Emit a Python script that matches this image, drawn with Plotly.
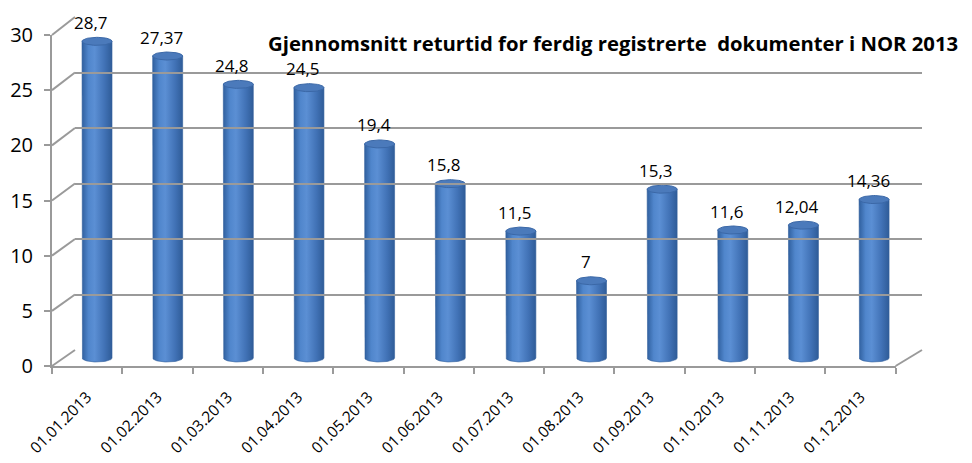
import plotly.graph_objects as go
import numpy as np

# ---- data ----
categories = ["01.01.2013", "01.02.2013", "01.03.2013", "01.04.2013", "01.05.2013", "01.06.2013",
              "01.07.2013", "01.08.2013", "01.09.2013", "01.10.2013", "01.11.2013", "01.12.2013"]
values = [28.7, 27.37, 24.8, 24.5, 19.4, 15.8, 11.5, 7, 15.3, 11.6, 12.04, 14.36]
y_ticks = [0, 5, 10, 15, 20, 25, 30]
title_text = "Gjennomsnitt returtid for ferdig registrerte  dokumenter i NOR 2013"

# ---- layout geometry (screen pixels; page body has an 8px margin) ----
OFF = 8
W, H = 972 - OFF, 463 - OFF
FONT = "Open Sans"


def px(p):
    return (p - OFF) / W


def py(p):
    return 1 - (p - OFF) / H


def y_domain(p0, p30, lo, hi, v0=0, v1=30):
    s = (p30 - p0) / (v1 - v0)
    return [py(p0 + (lo - v0) * s), py(p0 + (hi - v0) * s)]


# front plane
FX0, FX1, FY0, FY30 = 52, 895.6, 366, 35
# back plane
BX0, BX1, BY0, BY30 = 75, 922, 350, 17
# mid plane (bars)
MX0, MX1, MY0, MY30 = 61.7, 909.4, 358, 27

fig = go.Figure()

n = len(categories)
xs = np.arange(1, n + 1)
half_w = 15.0 / ((MX1 - MX0) / n)
ry = 4.0 / ((MY0 - MY30) / 30)
t = np.linspace(0, np.pi, 40)

body_scale = [[0, "#30609f"], [0.22, "#5086cc"], [0.42, "#5b8fd4"], [0.75, "#4172b6"], [1, "#2f5c98"]]

for i, (xc, v) in enumerate(zip(xs, values)):
    arc_x = xc - half_w * np.cos(t)
    arc_y = 0 - ry * np.sin(t)
    bx = np.concatenate([[xc - half_w], arc_x, [xc + half_w, xc - half_w]])
    by = np.concatenate([[v], arc_y, [v, v]])
    fig.add_trace(go.Scatter(
        x=bx, y=by, mode="lines", fill="toself",
        line=dict(width=0.6, color="#33609c"),
        fillgradient=dict(type="horizontal", colorscale=body_scale),
        hoverinfo="skip", showlegend=False, xaxis="x", yaxis="y"))
    tt = np.linspace(0, 2 * np.pi, 60)
    fig.add_trace(go.Scatter(
        x=xc + half_w * np.cos(tt), y=v + ry * np.sin(tt), mode="lines", fill="toself",
        fillcolor="#4b7abb", line=dict(width=1, color="#3b68a7"),
        hoverinfo="skip", showlegend=False, xaxis="x", yaxis="y"))
    fig.add_annotation(x=xc, y=v, xref="x", yref="y", text=f"{v:g}".replace(".", ","),
                       showarrow=False, yshift=19, xshift=-6,
                       font=dict(family=FONT, size=17, color="#000"))

fig.add_trace(go.Scatter(x=[0], y=[0], mode="markers", marker=dict(opacity=0),
                         xaxis="x2", yaxis="y2", hoverinfo="skip", showlegend=False))
fig.add_trace(go.Scatter(x=categories, y=[None] * n, mode="markers",
                         xaxis="x3", yaxis="y3", hoverinfo="skip", showlegend=False))

shapes = []
for tv in y_ticks:
    yf = FY0 + (FY30 - FY0) * tv / 30
    yb = BY0 + (BY30 - BY0) * tv / 30
    shapes.append(dict(type="line", xref="paper", yref="paper",
                       x0=px(FX0), y0=py(yf), x1=px(BX0), y1=py(yb),
                       line=dict(color="#9a9a9a", width=2), layer="below"))
shapes.append(dict(type="line", xref="paper", yref="paper",
                   x0=px(FX1), y0=py(FY0), x1=px(BX1), y1=py(BY0),
                   line=dict(color="#9a9a9a", width=2), layer="below"))

fig.update_layout(
    width=W, height=H, margin=dict(l=0, r=0, t=0, b=0, autoexpand=False),
    paper_bgcolor="white", plot_bgcolor="rgba(0,0,0,0)",
    showlegend=False, shapes=shapes,
    font=dict(family=FONT, size=17, color="#000"),
    xaxis=dict(domain=[px(MX0), px(MX1)], range=[0.5, n + 0.5], visible=False, automargin=False),
    yaxis=dict(domain=y_domain(MY0, MY30, -1.5, 31.5), range=[-1.5, 31.5], visible=False,
               automargin=False),
    xaxis2=dict(domain=[px(BX0), px(BX1)], range=[0, 1], visible=False, anchor="y2",
                automargin=False),
    yaxis2=dict(domain=y_domain(BY0, BY30, -0.05, 30.05), range=[-0.05, 30.05], anchor="x2",
                showgrid=True, gridcolor="#9a9a9a", gridwidth=2, dtick=5, tick0=0,
                zeroline=False, showticklabels=False, showline=False, ticks="",
                automargin=False),
    xaxis3=dict(domain=[px(FX0), px(FX1)], type="category", categoryarray=categories,
                categoryorder="array", range=[-0.5, n - 0.5], anchor="y3", automargin=False,
                showline=True, linecolor="#9a9a9a", linewidth=2, ticks="outside",
                tickson="boundaries", ticklen=6, tickcolor="#9a9a9a", tickwidth=2,
                tickangle=-45, tickfont=dict(family=FONT, size=15.5, color="#000"),
                ticklabelstandoff=14,
                showgrid=False, zeroline=False),
    yaxis3=dict(domain=y_domain(FY0, FY30, 0, 30), range=[0, 30], anchor="x3", automargin=False,
                tickvals=y_ticks, showline=True, linecolor="#9a9a9a", linewidth=2,
                ticks="outside", ticklen=6, tickcolor="#9a9a9a", tickwidth=2,
                ticklabelstandoff=7,
                showgrid=False, zeroline=False,
                tickfont=dict(family=FONT, size=20, color="#000")),
)

fig.add_annotation(x=px(613), y=py(43), xref="paper", yref="paper", text=f"<b>{title_text}</b>",
                   showarrow=False, xanchor="center", yanchor="middle",
                   font=dict(family=FONT, size=20.3, color="#000"))

fig.write_html("out.html")
